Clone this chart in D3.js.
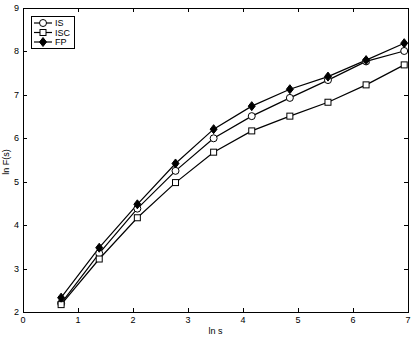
<!DOCTYPE html>
<html>
<head>
<meta charset="utf-8">
<script src="https://cdn.jsdelivr.net/npm/d3@7"></script>
<style>
  body { margin: 0; background: #fff; }
  text { font-family: "Liberation Sans", Arial, sans-serif; font-size: 9px; fill: #000; }
</style>
</head>
<body>
<div id="chart"></div>
<script>
const lnS = [0.693, 1.386, 2.079, 2.773, 3.466, 4.159, 4.852, 5.545, 6.238, 6.931]
const seriesIS = [2.2, 3.35, 4.38, 5.25, 6.0, 6.51, 6.93, 7.34, 7.77, 8.01]
const seriesISC = [2.17, 3.22, 4.17, 4.98, 5.68, 6.17, 6.51, 6.83, 7.23, 7.69]
const seriesFP = [2.33, 3.48, 4.48, 5.42, 6.21, 6.74, 7.13, 7.42, 7.8, 8.19]
const seriesNames = ['IS', 'ISC', 'FP']
const xTicks = [0, 1, 2, 3, 4, 5, 6, 7]
const yTicks = [2, 3, 4, 5, 6, 7, 8, 9]

const W = 415, H = 337
const plotL = 23, plotR = 408, plotT = 8, plotB = 312

const svg = d3.select('#chart').append('svg')
  .attr('width', W).attr('height', H)

const x = d3.scaleLinear().domain([0, 7]).range([plotL, plotR])
const y = d3.scaleLinear().domain([2, 9]).range([plotB, plotT])

// box + ticks (inward, all four sides)
const axisG = svg.append('g').attr('stroke', '#000').attr('fill', 'none')
axisG.append('rect')
  .attr('x', plotL + 0.5).attr('y', plotT + 0.5)
  .attr('width', plotR - plotL).attr('height', plotB - plotT)
  .attr('stroke-width', 1)

const tl = 4
xTicks.forEach(t => {
  const px = Math.round(x(t)) + 0.5
  axisG.append('line').attr('x1', px).attr('x2', px).attr('y1', plotB).attr('y2', plotB - tl)
  axisG.append('line').attr('x1', px).attr('x2', px).attr('y1', plotT).attr('y2', plotT + tl)
})
yTicks.forEach(t => {
  const py = Math.round(y(t)) + 0.5
  axisG.append('line').attr('x1', plotL).attr('x2', plotL + tl).attr('y1', py).attr('y2', py)
  axisG.append('line').attr('x1', plotR).attr('x2', plotR - tl).attr('y1', py).attr('y2', py)
})

svg.append('g').selectAll('text').data(xTicks).enter().append('text')
  .attr('x', d => x(d)).attr('y', plotB + 11)
  .attr('text-anchor', 'middle').text(d => d)

svg.append('g').selectAll('text').data(yTicks).enter().append('text')
  .attr('x', plotL - 4).attr('y', d => y(d) + 3)
  .attr('text-anchor', 'end').text(d => d)

svg.append('text').attr('x', (plotL + plotR) / 2).attr('y', plotB + 22)
  .attr('text-anchor', 'middle').text('ln s')

svg.append('text')
  .attr('transform', `translate(9, ${(plotT + plotB) / 2 + 2}) rotate(-90)`)
  .attr('text-anchor', 'middle').text('ln F(s)')

// markers
function drawMarker(g, type, cx, cy) {
  if (type === 'IS') {
    g.append('circle').attr('cx', cx).attr('cy', cy).attr('r', 3.5)
      .attr('fill', '#fff').attr('stroke', '#000').attr('stroke-width', 1)
  } else if (type === 'ISC') {
    g.append('rect').attr('x', cx - 3).attr('y', cy - 3).attr('width', 6).attr('height', 6)
      .attr('fill', '#fff').attr('stroke', '#000').attr('stroke-width', 1)
  } else {
    g.append('path')
      .attr('d', `M${cx},${cy - 4.5}L${cx + 3.5},${cy}L${cx},${cy + 4.5}L${cx - 3.5},${cy}Z`)
      .attr('fill', '#000').attr('stroke', '#000').attr('stroke-width', 1)
  }
}

const allSeries = { IS: seriesIS, ISC: seriesISC, FP: seriesFP }
const line = d3.line().x(d => x(d[0])).y(d => y(d[1]))

seriesNames.forEach(name => {
  const pts = lnS.map((v, i) => [v, allSeries[name][i]])
  svg.append('path').datum(pts).attr('d', line)
    .attr('fill', 'none').attr('stroke', '#000').attr('stroke-width', 1.2)
})
seriesNames.forEach(name => {
  const g = svg.append('g')
  lnS.forEach((v, i) => drawMarker(g, name, x(v), y(allSeries[name][i])))
})

// legend
const lg = svg.append('g')
lg.append('rect').attr('x', 31.5).attr('y', 16.5).attr('width', 43).attr('height', 32)
  .attr('fill', '#fff').attr('stroke', '#000')
seriesNames.forEach((name, i) => {
  const ly = 23 + i * 9.5
  lg.append('line').attr('x1', 34).attr('x2', 52).attr('y1', ly).attr('y2', ly)
    .attr('stroke', '#000').attr('stroke-width', 1.2)
  drawMarker(lg, name, 43, ly)
  lg.append('text').attr('x', 55).attr('y', ly + 3.2).text(name)
})
</script>
</body>
</html>
